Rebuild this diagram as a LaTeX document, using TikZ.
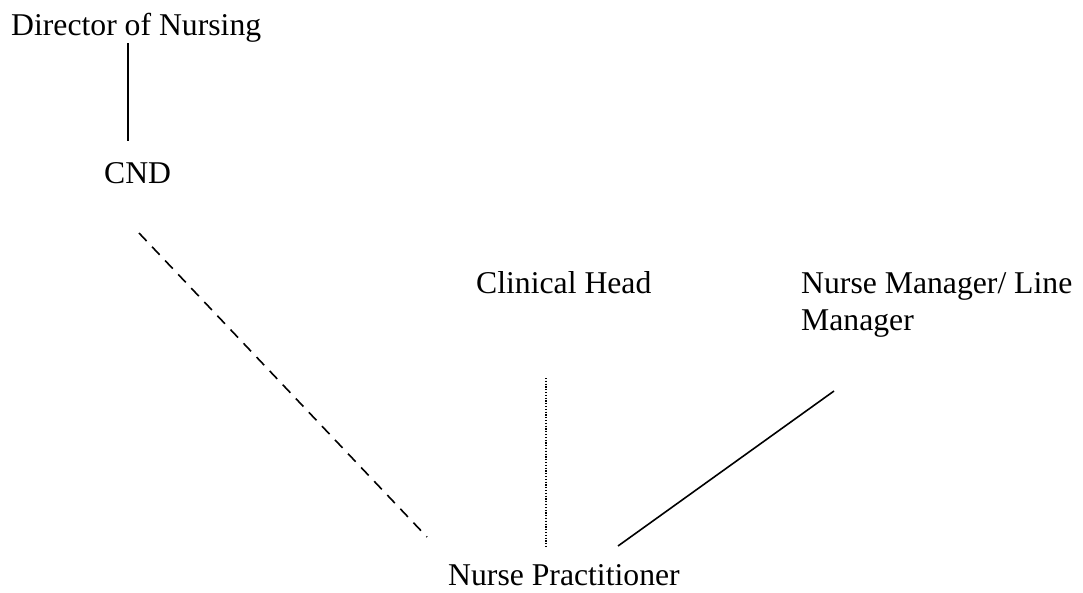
\documentclass[tikz,border=0pt]{standalone}
\usepackage{fontspec}
\setmainfont{Liberation Serif}
\usetikzlibrary{positioning}

\tikzset{
  role/.style={inner sep=0pt, anchor=base west, align=left,
    font=\fontsize{31.7}{37}\selectfont},
  solidlink/.style={line width=1.6pt},
  dashlink/.style={line width=1.6pt, dash pattern=on 11pt off 8pt},
  dotlink/.style={line width=1.2pt, dash pattern=on 1.2pt off 1.6pt}
}

\begin{document}
\begin{tikzpicture}[x=1pt, y=-1pt]
        \useasboundingbox (0,0) rectangle (1083,592);

        % posts
        \node[role] (dir) at (11,35) {Director of Nursing};
        \node[role] (cnd) at (104,183) {CND};
        \node[role] (clin) at (476,293) {Clinical Head};
        \node[role] (mgr) at (801,330) {Nurse Manager/ Line\\Manager};
        \node[role] (np) at (448,585) {Nurse Practitioner};

        % line ends (lines stop short of the texts)
        \coordinate (dir-foot) at (128,43);
        \coordinate (cnd-head) at (128,141);
        \coordinate (cnd-foot) at (139,233);
        \coordinate (clin-foot) at (546,378);
        \coordinate (mgr-foot) at (834,391);
        \coordinate (np-left) at (427,537);
        \coordinate (np-mid) at (546,548);
        \coordinate (np-right) at (618,546);

        % reporting lines
        \draw[solidlink] (dir-foot) -- (cnd-head);
        \draw[dashlink] (cnd-foot) -- (np-left);
        \draw[dotlink] (clin-foot) -- (np-mid);
        \draw[solidlink] (mgr-foot) -- (np-right);

    \end{tikzpicture}
\end{document}
